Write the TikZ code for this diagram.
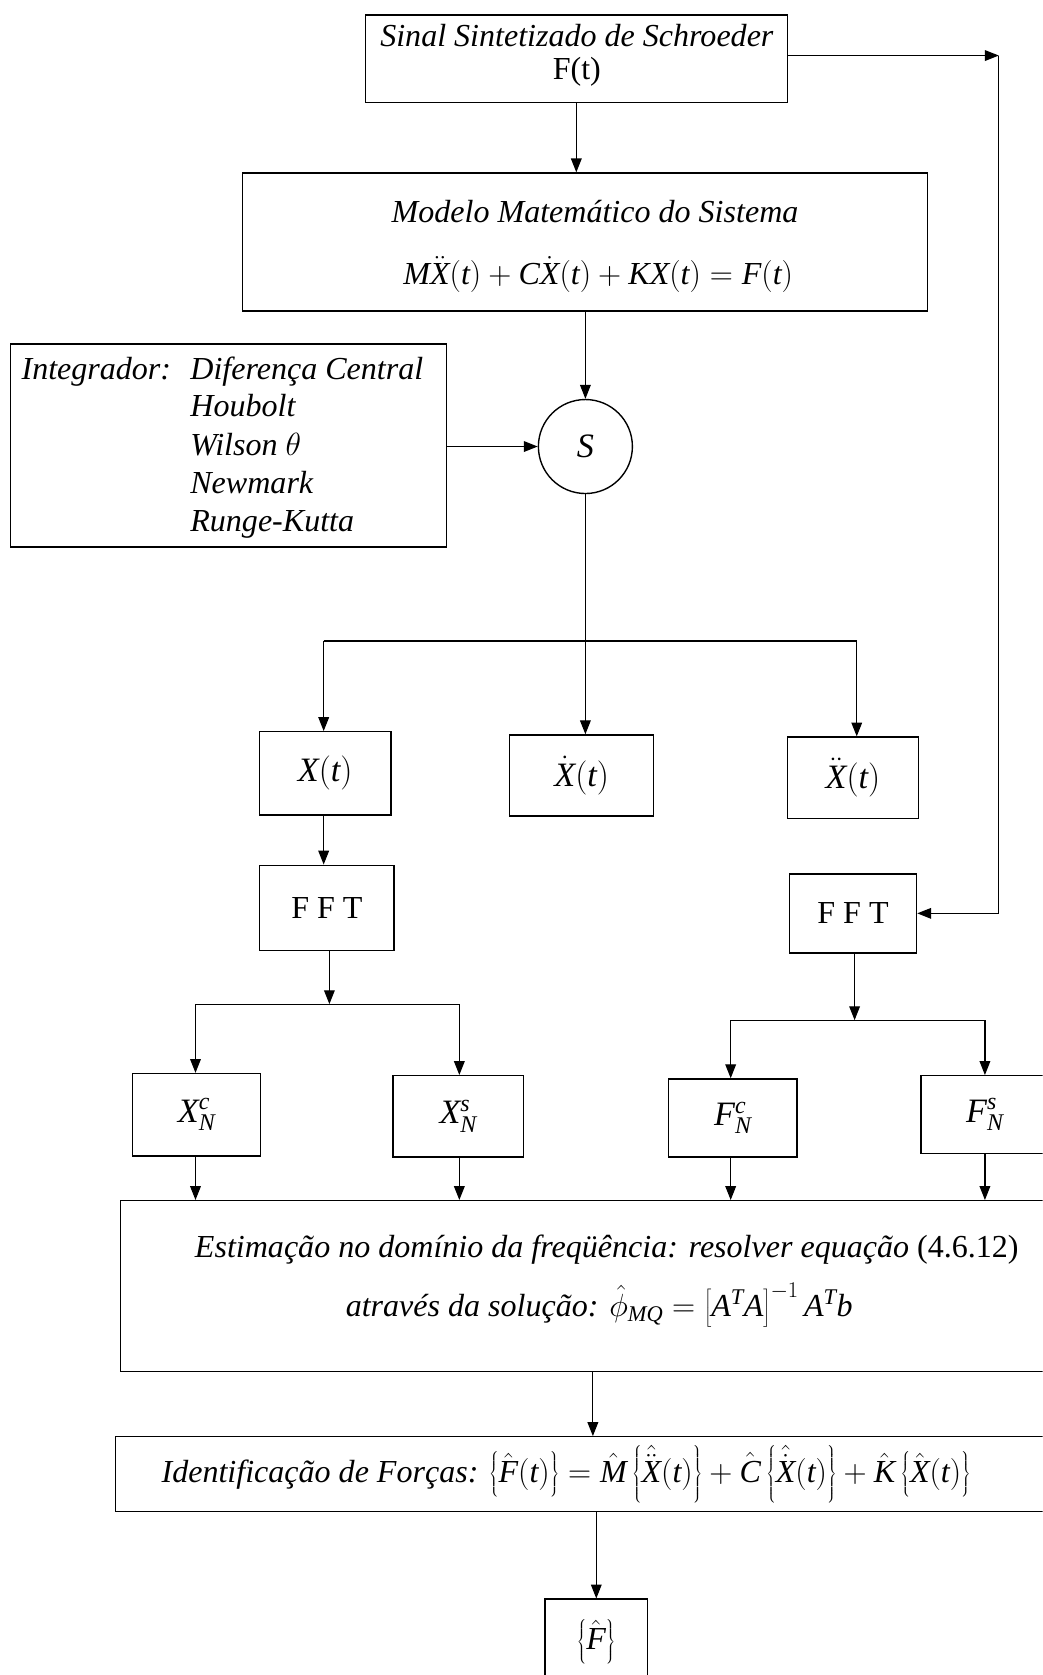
\RequirePackage{fix-cm}
\documentclass[tikz,border=0pt]{standalone}
\usepackage{fontspec}
\setmainfont{Liberation Serif}
\usetikzlibrary{arrows.meta}
\newcommand\mi[1]{\mathit{#1}}
\newcommand\fsz{\fontsize{30}{34}\selectfont}
\newcommand\fszb{\fontsize{32}{36}\selectfont}
\begin{document}
\begin{tikzpicture}[x=1pt,y=-1pt,
  box/.style={draw,line width=1.3pt,inner sep=0pt},
  txt/.style={inner sep=0pt,font=\fsz},
  arr/.style={line width=1.1pt,-{Triangle[length=13pt,width=10pt]}},
  ln/.style={line width=1.1pt}]
\path[use as bounding box] (0,0) rectangle (976,1568);
\clip (0,0) rectangle (976,1568);

% top source box
\node[box,minimum width=395pt,minimum height=82pt] (top) at (539.5,55) {};
\node[txt] (toptxt1) at (540,33) {\itshape Sinal Sintetizado de Schroeder};
\node[txt] (toptxt2) at (540,67) {F(t)};

% model box
\node[box,minimum width=641pt,minimum height=129pt] (mod) at (547.5,226.5) {};
\node[txt] (modtxt1) at (557,198) {\itshape Modelo Matemático do Sistema};
\node[txt] (modtxt2) at (560,257) {$\mi{M}\ddot{\mi{X}}(\mi{t})+\mi{C}\dot{\mi{X}}(\mi{t})+\mi{K}\mi{X}(\mi{t})=\mi{F}(\mi{t})$};

% integrator box
\node[box,minimum width=408pt,minimum height=190pt] (integ) at (214,417) {};
\node[txt,anchor=base west] (i0) at (20,355) {\itshape Integrador:};
\node[txt,anchor=base west] (i1) at (178,355) {\itshape Diferença Central};
\node[txt,anchor=base west] (i2) at (178,390) {\itshape Houbolt};
\node[txt,anchor=base west] (i3) at (178,426) {\itshape Wilson $\theta$};
\node[txt,anchor=base west] (i4) at (178,462) {\itshape Newmark};
\node[txt,anchor=base west] (i5) at (178,498) {\itshape Runge-Kutta};

% S circle
\node[draw,circle,line width=1.3pt,minimum size=88pt,inner sep=0pt,font=\fszb] (s) at (548,418) {$\mi{S}$};

% outputs
\node[box,minimum width=123pt,minimum height=78pt,font=\fszb] (xt) at (304.5,724) {$\mi{X}(\mi{t})$};
\node[box,minimum width=135pt,minimum height=76pt,font=\fszb] (xd) at (544.5,726) {$\dot{\mi{X}}(\mi{t})$};
\node[box,minimum width=123pt,minimum height=76pt,font=\fszb] (xdd) at (798.5,728) {$\ddot{\mi{X}}(\mi{t})$};

% FFT boxes
\node[box,minimum width=126pt,minimum height=80pt,font=\fsz] (fft1) at (306,850) {F F T};
\node[box,minimum width=119pt,minimum height=74pt,font=\fsz] (fft2) at (798.5,855) {F F T};

% coefficient boxes
\node[box,minimum width=120pt,minimum height=77pt,font=\fszb] (xc) at (184,1043.5) {$\mi{X}^{\mi{c}}_{\mi{N}}$};
\node[box,minimum width=122pt,minimum height=76pt,font=\fszb] (xs) at (429,1045) {$\mi{X}^{\mi{s}}_{\mi{N}}$};
\node[box,minimum width=120pt,minimum height=73pt,font=\fszb] (fc) at (686,1046.5) {$\mi{F}^{\mi{c}}_{\mi{N}}$};
\node[box,minimum width=120pt,minimum height=73pt,font=\fszb] (fs) at (922,1043.5) {$\mi{F}^{\mi{s}}_{\mi{N}}$};

% estimation box
\node[box,minimum width=917pt,minimum height=160pt] (est) at (571.5,1204) {};
\node[txt] (esttxt1) at (568,1170) {\itshape Estimação no domínio da freqüência: resolver equação \upshape(4.6.12)};
\node[txt] (esttxt2) at (561,1222) {\itshape através da solução: $\hat{\phi}_{\mi{MQ}}=\left[\mi{A}^{\mi{T}}\mi{A}\right]^{-1}\mi{A}^{\mi{T}}\mi{b}$};

% identification box
\node[box,minimum width=922pt,minimum height=70pt] (ident) at (569,1380) {};
\node[txt] (identtxt) at (530,1380) {\itshape Identificação de Forças: $\left\{\hat{\mi{F}}(\mi{t})\right\}=\hat{\mi{M}}\left\{\hat{\ddot{\mi{X}}}(\mi{t})\right\}+\hat{\mi{C}}\left\{\hat{\dot{\mi{X}}}(\mi{t})\right\}+\hat{\mi{K}}\left\{\hat{\mi{X}}(\mi{t})\right\}$};

% final box
\node[box,minimum width=96pt,minimum height=140pt] (fin) at (558.2,1567) {};
\node[txt] (fintxt) at (558,1537) {$\left\{\hat{\mi{F}}\right\}$};

% connectors
\draw[arr] (top.south) -- (top.south |- mod.north);
\draw[arr] (s.north |- mod.south) -- (s.north);
\draw[arr] (integ.east |- s.west) -- (s.west);

\coordinate (b1m) at (548,600);
\coordinate (b1l) at (303,600);
\coordinate (b1r) at (802,600);
\draw[ln] (s.south) -- (b1m);
\draw[ln] (b1l) -- (b1r);
\draw[arr] (b1l) -- (b1l |- xt.north);
\draw[arr] (b1m) -- (b1m |- xd.north);
\draw[arr] (b1r) -- (b1r |- xdd.north);

\draw[arr] (303,0 |- xt.south) -- (303,0 |- fft1.north);

\coordinate (b2m) at (308.35,940);
\coordinate (b2l) at (183,940);
\coordinate (b2r) at (430,940);
\draw[arr] (b2m |- fft1.south) -- (b2m);
\draw[ln] (b2l) -- (b2r);
\draw[arr] (b2l) -- (b2l |- xc.north);
\draw[arr] (b2r) -- (b2r |- xs.north);

\coordinate (b3m) at (800,955);
\coordinate (b3l) at (684,955);
\coordinate (b3r) at (922,955);
\draw[arr] (b3m |- fft2.south) -- (b3m);
\draw[ln] (b3l) -- (b3r);
\draw[arr] (b3l) -- (b3l |- fc.north);
\draw[arr] (b3r) -- (b3r |- fs.north);

\draw[arr] (183,0 |- xc.south) -- (183,0 |- est.north);
\draw[arr] (430,0 |- xs.south) -- (430,0 |- est.north);
\draw[arr] (684,0 |- fc.south) -- (684,0 |- est.north);
\draw[arr] (922,0 |- fs.south) -- (922,0 |- est.north);

\draw[arr] (555,0 |- est.south) -- (555,0 |- ident.north);
\draw[arr] (fin.north |- ident.south) -- (fin.north);

% feedback path
\coordinate (fbk) at (935,52);
\draw[arr] (top.east |- fbk) -- (fbk);
\draw[arr] (fbk) -- (fbk |- fft2.east) -- (fft2.east);
\end{tikzpicture}
\end{document}
